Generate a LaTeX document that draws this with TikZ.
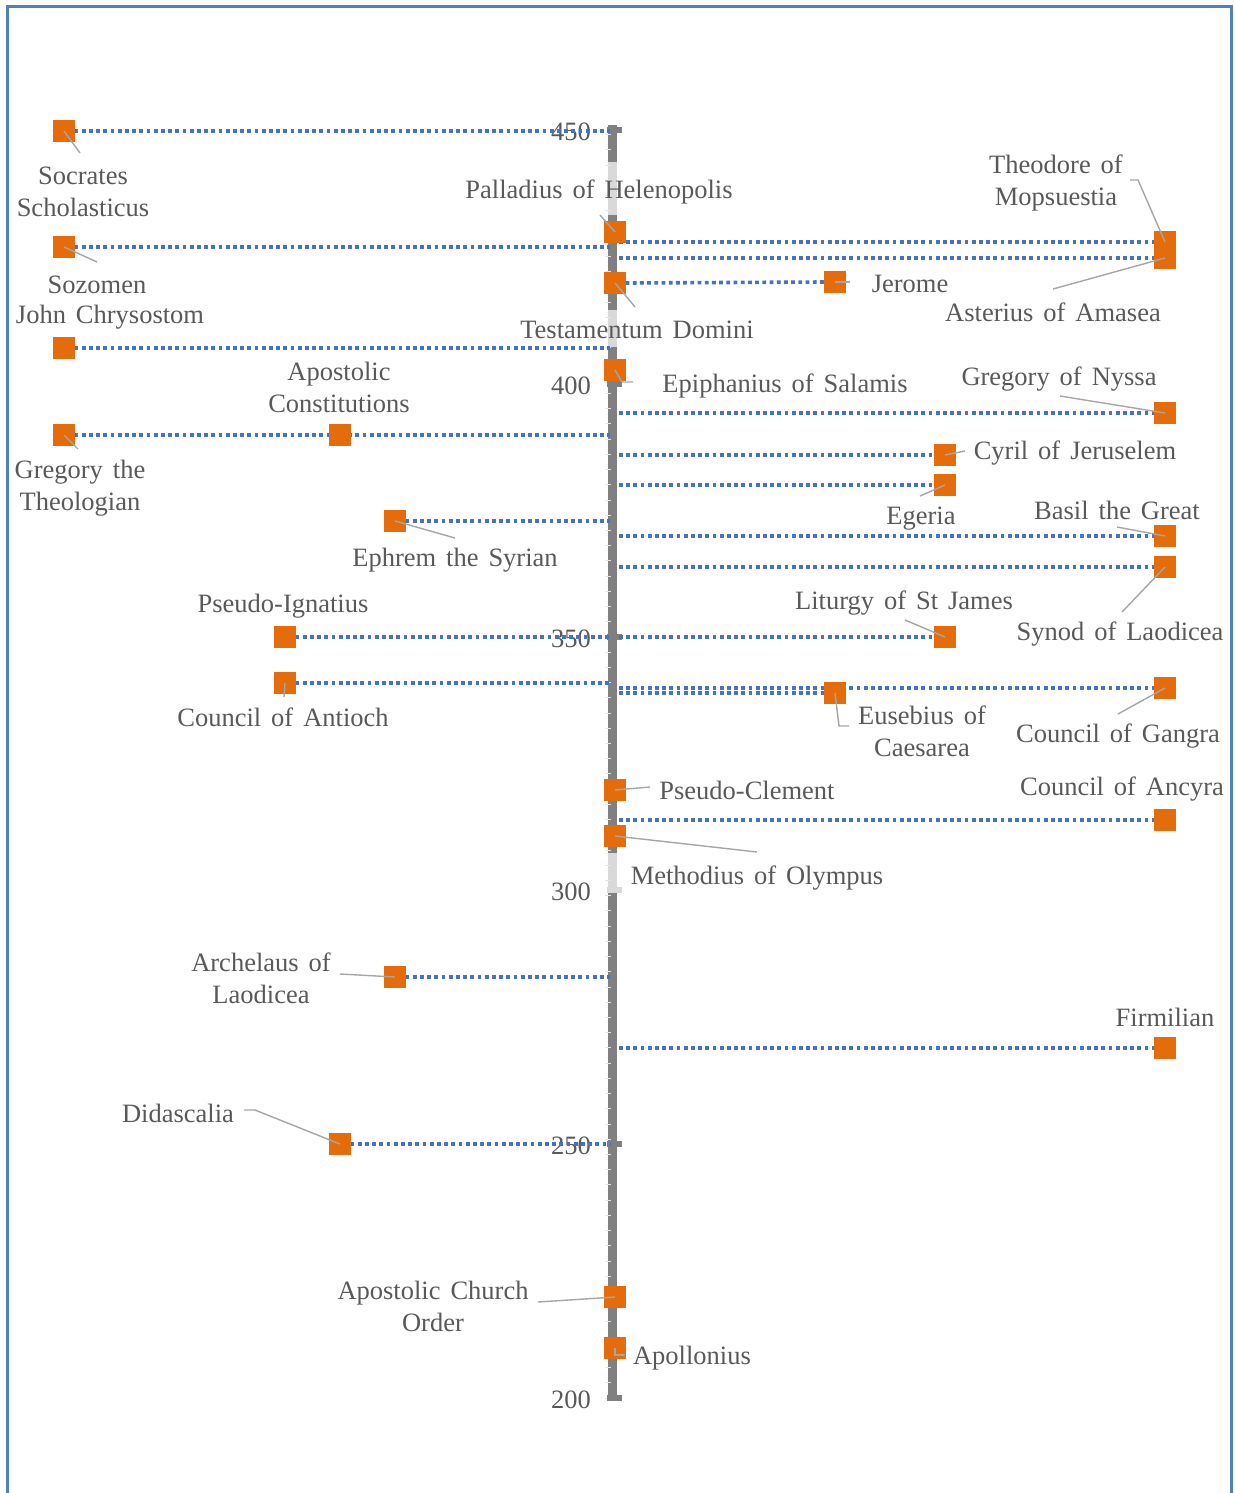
\documentclass[tikz,border=0pt]{standalone}
\usepackage{fontspec}
\setmainfont{Liberation Serif}[WordSpace=1.5]
\definecolor{txt}{HTML}{595959}
\definecolor{dotblue}{HTML}{4472C4}
\definecolor{frameblue}{HTML}{4F81BD}
\definecolor{sqor}{HTML}{E46C0A}
\definecolor{axgray}{HTML}{808080}
\definecolor{axlight}{HTML}{D9D9D9}
\definecolor{leadgray}{HTML}{A6A6A6}
\begin{document}
\begin{tikzpicture}[x=1pt,y=-1pt,
  sq/.style={fill=sqor, draw=sqor!60!white, line width=0.6pt, minimum size=20.5pt, inner sep=0pt},
  lbl/.style={text=txt, font=\fontsize{26.5}{32}\selectfont, inner sep=0pt, align=center, yshift=-2pt},
  dots/.style={draw=dotblue, line width=3.6pt, dash pattern=on 3.8pt off 3.4pt},
  lead/.style={draw=leadgray, line width=1.4pt},
  yr/.style={lbl, anchor=east}
]
\useasboundingbox (0,0) rectangle (1234,1493);
% frame
\draw[frameblue, line width=3pt] (7,1493) -- (7,6.5) -- (1231,6.5) -- (1231,1493);

% axis
\coordinate (axT) at (612,125);
\coordinate (axB) at (612,1401);
\coordinate (axL) at (610,0);
\coordinate (axR) at (619,0);
\draw[axgray, line width=9pt] (axT) -- (axB);
\draw[axlight, line width=9pt] (612,162) -- (612,215);
\draw[axlight, line width=9pt] (612,310) -- (612,347);
\draw[axlight, line width=9pt] (612,853) -- (612,893);
\foreach \k in {0,...,83}{
  \draw[white!80!axgray, line width=1pt] (605,{1398-\k*15.22}) -- (611,{1398-\k*15.22});
}
\foreach \yv in {130,384,637,890,1144,1398}{
  \fill[axgray] (607,\yv-3) rectangle (622,\yv+3);
}
\fill[axlight] (607,887) rectangle (622,893);

% year labels
\node[yr] (y450) at (591,130) {450};
\node[yr] (y400) at (591,384) {400};
\node[yr] (y350) at (591,637) {350};
\node[yr] (y300) at (591,890) {300};
\node[yr] (y250) at (591,1144) {250};
\node[yr] (y200) at (591,1398) {200};

% squares (positions)
\node[sq] (soc) at (64,131) {};
\node[sq] (soz) at (64,247) {};
\node[sq] (chr) at (64,348) {};
\node[sq] (gth) at (64,435) {};
\node[sq] (apc) at (340,435) {};
\node[sq] (eph) at (395,521) {};
\node[sq] (psi) at (285,637) {};
\node[sq] (coa) at (285,683) {};
\node[sq] (arc) at (395,977) {};
\node[sq] (did) at (340,1144) {};
\node[sq] (aco) at (615,1297) {};
\node[sq] (apo) at (615,1348) {};
\node[sq] (pal) at (615,232) {};
\node[sq] (tes) at (615,283) {};
\node[sq] (epi) at (615,370) {};
\node[sq] (pcl) at (615,790) {};
\node[sq] (met) at (615,836) {};
\node[sq] (ast) at (1165,258) {};
\node[sq] (the) at (1165,242) {};
\node[sq] (jer) at (835,282) {};
\node[sq] (gny) at (1165,413) {};
\node[sq] (cyr) at (945,455) {};
\node[sq] (ege) at (945,485) {};
\node[sq] (bas) at (1165,536) {};
\node[sq] (syn) at (1165,567) {};
\node[sq] (lit) at (945,637) {};
\node[sq] (gan) at (1165,688) {};
\node[sq] (eus) at (835,693) {};
\node[sq] (anc) at (1165,820) {};
\node[sq] (fir) at (1165,1048) {};

% labels
\node[lbl] (socL) at (83,190) {Socrates\\Scholasticus};
\node[lbl] (sozL) at (97,283) {Sozomen};
\node[lbl] (chrL) at (110,315) {John Chrysostom};
\node[lbl] (gthL) at (80,486) {Gregory the\\Theologian};
\node[lbl] (apcL) at (339,385) {Apostolic\\Constitutions};
\node[lbl] (ephL) at (455,558) {Ephrem the Syrian};
\node[lbl] (psiL) at (283,604) {Pseudo-Ignatius};
\node[lbl] (coaL) at (283,715) {Council of Antioch};
\node[lbl] (arcL) at (261,976) {Archelaus of\\Laodicea};
\node[lbl] (didL) at (178,1111) {Didascalia};
\node[lbl] (acoL) at (433,1304) {Apostolic Church\\Order};
\node[lbl] (apoL) at (692,1356) {Apollonius};
\node[lbl] (palL) at (599,190) {Palladius of Helenopolis};
\node[lbl] (tesL) at (637,328) {Testamentum Domini};
\node[lbl] (epiL) at (785,384) {Epiphanius of Salamis};
\node[lbl] (pclL) at (747,788) {Pseudo-Clement};
\node[lbl] (metL) at (757,876) {Methodius of Olympus};
\node[lbl] (theL) at (1056,181) {Theodore of\\Mopsuestia};
\node[lbl] (astL) at (1053,310) {Asterius of Amasea};
\node[lbl] (jerL) at (910,282) {Jerome};
\node[lbl] (gnyL) at (1059,377) {Gregory of Nyssa};
\node[lbl] (cyrL) at (1075,451) {Cyril of Jeruselem};
\node[lbl] (egeL) at (921,517) {Egeria};
\node[lbl] (basL) at (1117,508) {Basil the Great};
\node[lbl] (synL) at (1120,632) {Synod of Laodicea};
\node[lbl] (litL) at (904,601) {Liturgy of St James};
\node[lbl] (ganL) at (1118,734) {Council of Gangra};
\node[lbl] (eusL) at (922,729) {Eusebius of\\Caesarea};
\node[lbl] (ancL) at (1122,787) {Council of Ancyra};
\node[lbl] (firL) at (1165,1015) {Firmilian};

% dotted lines, left side
\foreach \n in {soc,soz,chr,gth,eph,psi,coa,arc,did}{
  \draw[dots] (\n.east) -- (\n -| axL);
}
% dotted lines, right side
\foreach \n in {the,ast,gny,cyr,ege,bas,syn,lit,gan,anc,fir}{
  \draw[dots] (axR |- \n) -- (\n.west);
}
\draw[dots] (tes.east) -- (jer.west);
\draw[dots] (axR |- eus) -- (eus.west);

% redraw squares on top
\foreach \n in {soc,soz,chr,gth,apc,eph,psi,coa,arc,did,aco,apo,pal,tes,epi,pcl,met,ast,the,jer,gny,cyr,ege,bas,syn,lit,gan,eus,anc,fir}{
  \fill[sqor] (\n.south west) rectangle (\n.north east);
}
\fill[sqor] (the.north west) rectangle (ast.south east);

% leader lines
\draw[lead] (soc.center) -- (80,153);
\draw[lead] (soz.center) -- (97,262);
\draw[lead] (gth.center) -- (78,449);
\draw[lead] (eph.center) -- (455,538);
\draw[lead] (coa.center) -- (284,697);
\draw[lead] (340,974) -- (arc.center);
\draw[lead] (244,1110) -- (255,1110) -- (did.center);
\draw[lead] (538,1302) -- (aco.center);
\draw[lead] (apo.center) -- (615,1355) -- (625,1355);
\draw[lead] (600,215) -- (pal.center);
\draw[lead] (tes.center) -- (635,307);
\draw[lead] (epi.center) -- (622,382) -- (633,382);
\draw[lead] (pcl.center) -- (650,787);
\draw[lead] (met.center) -- (757,852);
\draw[lead] (1130,180) -- (1138,180) -- (the.center);
\draw[lead] (1053,289) -- (ast.center);
\draw[lead] (jer.center) -- (850,282);
\draw[lead] (1060,396) -- (gny.center);
\draw[lead] (cyr.center) -- (965,451);
\draw[lead] (920,496) -- (ege.center);
\draw[lead] (1117,527) -- (bas.center);
\draw[lead] (1122,612) -- (syn.center);
\draw[lead] (905,620) -- (lit.center);
\draw[lead] (1118,714) -- (gan.center);
\draw[lead] (eus.center) -- (839,726) -- (849,726);
\end{tikzpicture}
\end{document}
